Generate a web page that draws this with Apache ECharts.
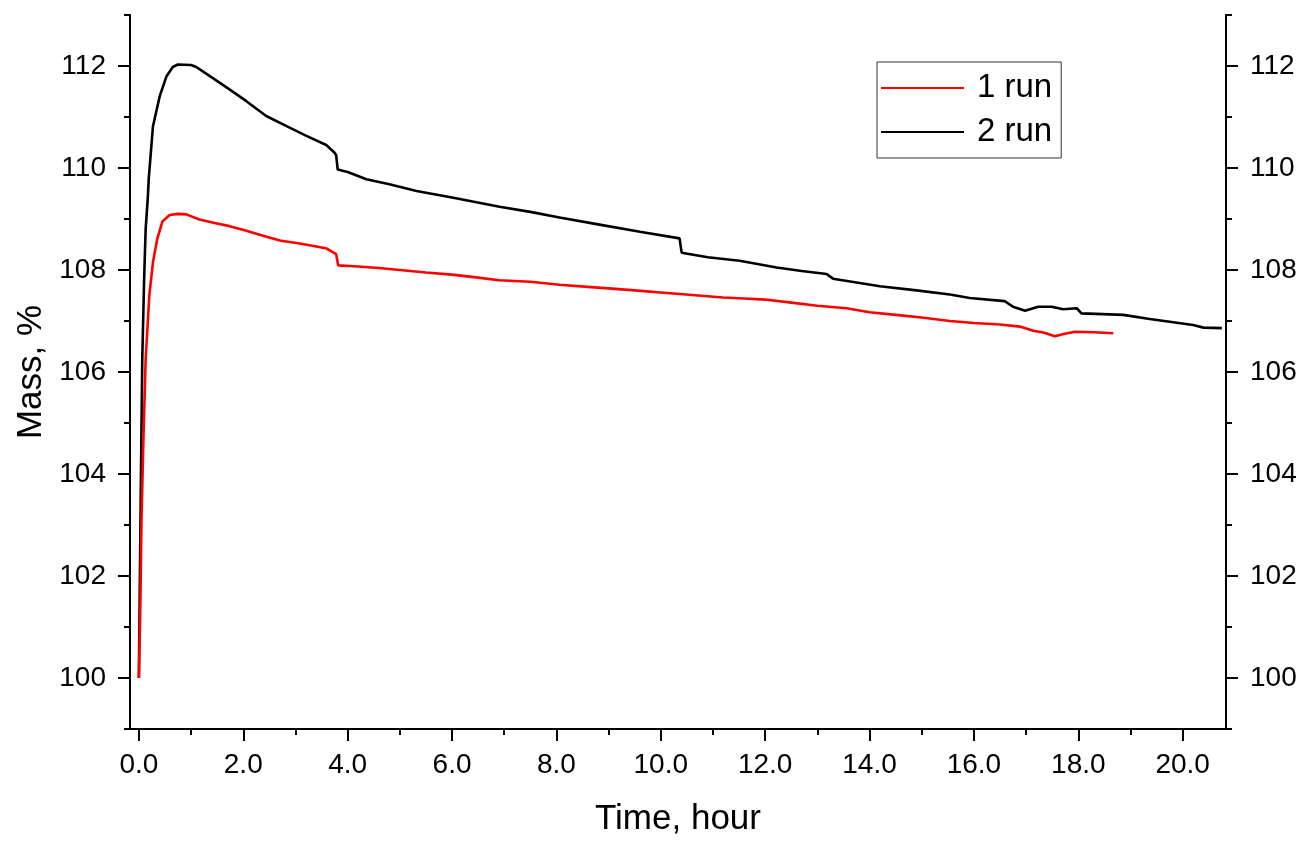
<!DOCTYPE html>
<html>
<head>
<meta charset="utf-8">
<script src="https://cdn.jsdelivr.net/npm/echarts@6/dist/echarts.min.js"></script>
<style>
html,body{margin:0;padding:0;background:#fff;}
#chart{width:1305px;height:842px;}
</style>
</head>
<body>
<div id="chart"></div>
<script>
// ---- data ----
var seriesNames = ['1 run', '2 run'];

var run1Time = [0.00, 0.03, 0.05, 0.09, 0.13, 0.20, 0.27, 0.35, 0.45, 0.59, 0.75, 0.91, 1.16, 1.45, 1.74, 2.06, 2.38, 2.70, 3.08, 3.40, 3.60, 3.78, 3.82, 4.20, 4.60, 5.00, 5.50, 6.00, 6.50, 6.90, 7.50, 8.06, 8.60, 9.00, 9.50, 10.00, 10.60, 11.19, 11.60, 12.00, 12.50, 13.00, 13.56, 14.00, 14.50, 15.00, 15.54, 16.00, 16.50, 16.88, 17.14, 17.35, 17.55, 17.74, 17.94, 18.30, 18.67];
var run1Mass = [100.00, 101.50, 103.10, 104.80, 106.25, 107.50, 108.15, 108.60, 108.95, 109.08, 109.10, 109.09, 108.99, 108.92, 108.86, 108.77, 108.67, 108.58, 108.52, 108.46, 108.42, 108.31, 108.09, 108.07, 108.04, 108.00, 107.95, 107.91, 107.85, 107.80, 107.77, 107.71, 107.67, 107.64, 107.60, 107.56, 107.51, 107.46, 107.44, 107.42, 107.36, 107.30, 107.25, 107.17, 107.12, 107.07, 107.00, 106.96, 106.93, 106.89, 106.81, 106.77, 106.70, 106.75, 106.79, 106.78, 106.76];

var run2Time = [0.00, 0.02, 0.04, 0.065, 0.10, 0.13, 0.17, 0.19, 0.27, 0.40, 0.53, 0.65, 0.75, 1.00, 1.10, 1.36, 1.68, 2.06, 2.44, 2.83, 3.21, 3.59, 3.75, 3.78, 3.81, 4.00, 4.36, 4.80, 5.32, 6.00, 6.91, 7.50, 8.06, 8.77, 9.60, 10.36, 10.40, 10.90, 11.51, 12.22, 12.70, 13.18, 13.30, 14.20, 14.90, 15.54, 15.92, 16.59, 16.75, 16.98, 17.23, 17.49, 17.71, 17.97, 18.06, 18.86, 19.37, 20.20, 20.40, 20.75];
var run2Mass = [100.00, 102.00, 104.00, 106.25, 107.80, 108.80, 109.40, 109.80, 110.82, 111.41, 111.80, 111.98, 112.03, 112.02, 111.98, 111.80, 111.58, 111.31, 111.02, 110.82, 110.63, 110.45, 110.30, 110.25, 109.97, 109.92, 109.78, 109.68, 109.55, 109.42, 109.24, 109.14, 109.03, 108.90, 108.75, 108.62, 108.34, 108.25, 108.18, 108.05, 107.98, 107.92, 107.83, 107.68, 107.60, 107.52, 107.45, 107.39, 107.28, 107.20, 107.28, 107.28, 107.23, 107.25, 107.15, 107.12, 107.04, 106.92, 106.87, 106.86];

var xMajorTicks = [0, 2, 4, 6, 8, 10, 12, 14, 16, 18, 20];
var xMinorTicks = [1, 3, 5, 7, 9, 11, 13, 15, 17, 19];
var yMajorTicks = [100, 102, 104, 106, 108, 110, 112];
var yMinorTicks = [99, 101, 103, 105, 107, 109, 111, 113];

function pairs(xs, ys) { return xs.map(function (x, i) { return [x, ys[i]]; }); }

var FONT = '"Liberation Sans", Arial, sans-serif';
var axisLineStyle = { show: true, onZero: false, lineStyle: { color: '#000', width: 2 } };
var X_MIN = -0.17, X_MAX = 20.83, Y_MIN = 99, Y_MAX = 113;

var chart = echarts.init(document.getElementById('chart'));
chart.setOption({
  backgroundColor: '#fff',
  animation: false,
  grid: { left: 130, right: 79, top: 15, bottom: 112, containLabel: false },
  legend: {
    data: seriesNames,
    orient: 'vertical',
    left: 877, top: 62,
    icon: 'rect',
    itemWidth: 83, itemHeight: 2,
    itemGap: 8,
    borderColor: '#333', borderWidth: 1,
    padding: [8, 9, 8, 4],
    textStyle: { fontFamily: FONT, fontSize: 33, color: '#000', lineHeight: 36, padding: [0, 0, 0, 8] }
  },
  xAxis: [
    {
      type: 'value', min: X_MIN, max: X_MAX, position: 'bottom',
      name: 'Time, hour', nameLocation: 'middle', nameGap: 73,
      nameTextStyle: { fontFamily: FONT, fontSize: 35, color: '#000' },
      axisLine: axisLineStyle,
      axisTick: { show: true, inside: false, length: 12, lineStyle: { color: '#000', width: 2 }, customValues: xMajorTicks },
      axisLabel: { fontFamily: FONT, fontSize: 28, color: '#000', margin: 22, customValues: xMajorTicks,
        formatter: function (v) { return v.toFixed(1); } },
      splitLine: { show: false }
    },
    {
      type: 'value', min: X_MIN, max: X_MAX, position: 'bottom',
      axisLine: axisLineStyle,
      axisTick: { show: true, inside: false, length: 6, lineStyle: { color: '#000', width: 2 }, customValues: xMinorTicks },
      axisLabel: { show: false },
      splitLine: { show: false }
    }
  ],
  yAxis: [
    {
      type: 'value', min: Y_MIN, max: Y_MAX, position: 'left',
      name: 'Mass, %', nameLocation: 'middle', nameGap: 76,
      nameTextStyle: { fontFamily: FONT, fontSize: 35, color: '#000' },
      axisLine: axisLineStyle,
      axisTick: { show: true, inside: false, length: 12, lineStyle: { color: '#000', width: 2 }, customValues: yMajorTicks },
      axisLabel: { fontFamily: FONT, fontSize: 28, color: '#000', margin: 24, customValues: yMajorTicks },
      splitLine: { show: false }
    },
    {
      type: 'value', min: Y_MIN, max: Y_MAX, position: 'left',
      axisLine: axisLineStyle,
      axisTick: { show: true, inside: false, length: 6, lineStyle: { color: '#000', width: 2 }, customValues: yMinorTicks },
      axisLabel: { show: false },
      splitLine: { show: false }
    },
    {
      type: 'value', min: Y_MIN, max: Y_MAX, position: 'right',
      axisLine: axisLineStyle,
      axisTick: { show: true, inside: false, length: 12, lineStyle: { color: '#000', width: 2 }, customValues: yMajorTicks },
      axisLabel: { fontFamily: FONT, fontSize: 28, color: '#000', margin: 24, customValues: yMajorTicks },
      splitLine: { show: false }
    },
    {
      type: 'value', min: Y_MIN, max: Y_MAX, position: 'right',
      axisLine: axisLineStyle,
      axisTick: { show: true, inside: false, length: 6, lineStyle: { color: '#000', width: 2 }, customValues: yMinorTicks },
      axisLabel: { show: false },
      splitLine: { show: false }
    }
  ],
  series: [
    {
      name: seriesNames[0], type: 'line', xAxisIndex: 0, yAxisIndex: 0,
      data: pairs(run1Time, run1Mass), showSymbol: false, symbol: 'none',
      lineStyle: { color: '#ff0000', width: 2.6 }, itemStyle: { color: '#ff0000' }, z: 3
    },
    {
      name: seriesNames[1], type: 'line', xAxisIndex: 0, yAxisIndex: 0,
      data: pairs(run2Time, run2Mass), showSymbol: false, symbol: 'none',
      lineStyle: { color: '#000000', width: 2.6 }, itemStyle: { color: '#000000' }, z: 2
    }
  ]
});
</script>
</body>
</html>
